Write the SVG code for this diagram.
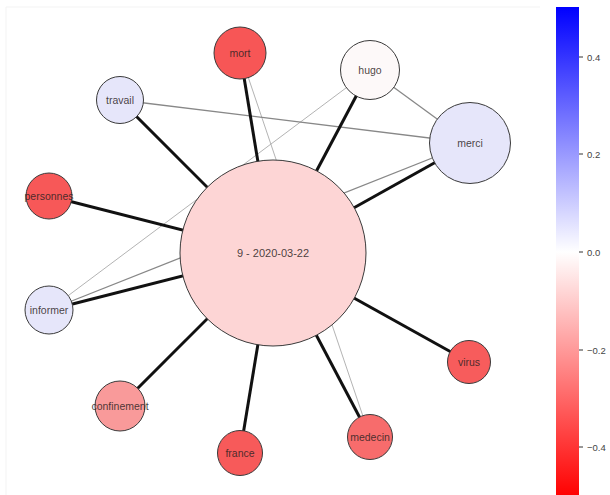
<svg xmlns="http://www.w3.org/2000/svg" width="610" height="495" viewBox="0 0 610 495">
<defs>
<linearGradient id="cbar" x1="0" y1="0" x2="0" y2="1">
<stop offset="0" stop-color="#0000ff"/>
<stop offset="0.5" stop-color="#ffffff"/>
<stop offset="1" stop-color="#ff0000"/>
</linearGradient>
<style>
.node circle{stroke:#3a3a3a;stroke-width:1}
.node text{font-family:"Liberation Sans",Arial,sans-serif;font-size:10.5px;fill:#2a2222;fill-opacity:0.85;text-anchor:middle;dominant-baseline:central}
.strong{stroke:#111;stroke-width:3;fill:none}
.mid{stroke:#888;stroke-width:1.3;fill:none}
.weak{stroke:#aaa;stroke-width:0.9;fill:none}
.tick{stroke:#333;stroke-width:1}
.tl{font-family:"Liberation Sans",Arial,sans-serif;font-size:9.5px;fill:#444;dominant-baseline:central}
</style>
</defs>
<rect width="610" height="495" fill="#ffffff"/>
<path d="M6 7H540M6 7V495" stroke="#f3f3f3" stroke-width="1" fill="none"/>
<g id="edges">
<line class="weak" x1="49" y1="310" x2="370" y2="70"/>
<line class="weak" x1="240" y1="53" x2="370" y2="437"/>
<line class="mid" x1="120" y1="100" x2="470" y2="143"/>
<line class="mid" x1="370" y1="70" x2="470" y2="143"/>
<line class="mid" x1="49" y1="310" x2="470" y2="143"/>
<line class="strong" x1="273" y1="253" x2="240" y2="53"/>
<line class="strong" x1="273" y1="253" x2="370" y2="70"/>
<line class="strong" x1="273" y1="253" x2="470" y2="143"/>
<line class="strong" x1="273" y1="253" x2="120" y2="100"/>
<line class="strong" x1="273" y1="253" x2="49" y2="196"/>
<line class="strong" x1="273" y1="253" x2="49" y2="310"/>
<line class="strong" x1="273" y1="253" x2="120" y2="406"/>
<line class="strong" x1="273" y1="253" x2="240" y2="453"/>
<line class="strong" x1="273" y1="253" x2="370" y2="437"/>
<line class="strong" x1="273" y1="253" x2="469" y2="362"/>
</g>
<g id="center" class="node"><circle cx="273" cy="253" r="93" fill="#fdd5d5"/><text x="273" y="253" style="font-size:11px">9 - 2020-03-22</text></g>
<g id="mort" class="node"><circle cx="240" cy="53" r="26" fill="#f75656"/><text x="240" y="53">mort</text></g>
<g id="hugo" class="node"><circle cx="370" cy="70" r="29.5" fill="#fdf9f9"/><text x="370" y="70">hugo</text></g>
<g id="merci" class="node"><circle cx="470" cy="143" r="40.5" fill="#e6e6fa"/><text x="470" y="143">merci</text></g>
<g id="travail" class="node"><circle cx="120" cy="100" r="23.5" fill="#e6e6fa"/><text x="120" y="100">travail</text></g>
<g id="personnes" class="node"><circle cx="49" cy="196" r="23" fill="#f75858"/><text x="49" y="196">personnes</text></g>
<g id="informer" class="node"><circle cx="49" cy="310" r="24" fill="#e6e6fa"/><text x="49" y="310">informer</text></g>
<g id="confinement" class="node"><circle cx="120" cy="406" r="25" fill="#f99a9a"/><text x="120" y="406">confinement</text></g>
<g id="france" class="node"><circle cx="240" cy="453" r="22.5" fill="#f75a5a"/><text x="240" y="453">france</text></g>
<g id="medecin" class="node"><circle cx="370" cy="437" r="22.5" fill="#f76c6c"/><text x="370" y="437">medecin</text></g>
<g id="virus" class="node"><circle cx="469" cy="362" r="21.5" fill="#f75c5c"/><text x="469" y="362">virus</text></g>
<g id="colorbar">
<rect x="556" y="7" width="23" height="490" fill="url(#cbar)"/>
<line class="tick" x1="579" y1="57" x2="583" y2="57"/>
<line class="tick" x1="579" y1="154" x2="583" y2="154"/>
<line class="tick" x1="579" y1="252" x2="583" y2="252"/>
<line class="tick" x1="579" y1="350" x2="583" y2="350"/>
<line class="tick" x1="579" y1="447" x2="583" y2="447"/>
<text class="tl" x="587" y="57">0.4</text>
<text class="tl" x="587" y="154">0.2</text>
<text class="tl" x="587" y="252">0.0</text>
<text class="tl" x="587" y="350">−0.2</text>
<text class="tl" x="587" y="447">−0.4</text>
</g>
</svg>
